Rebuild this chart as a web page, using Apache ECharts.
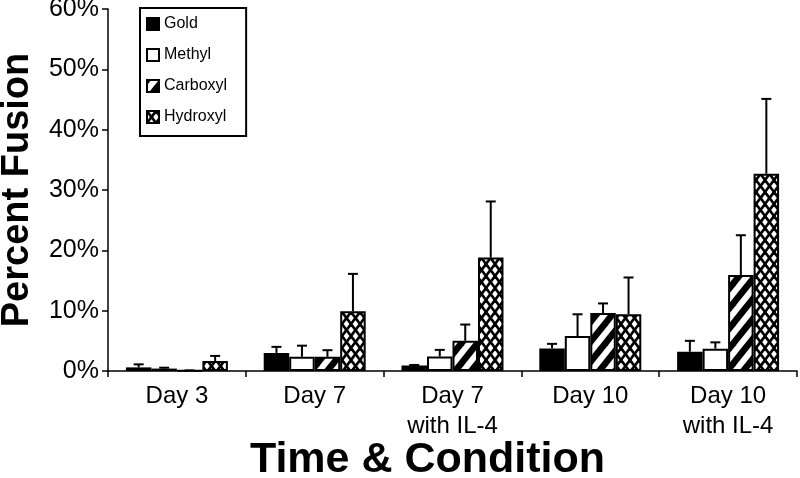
<!DOCTYPE html>
<html>
<head>
<meta charset="utf-8">
<script src="https://cdn.jsdelivr.net/npm/echarts@6/dist/echarts.min.js"></script>
<style>html,body{margin:0;padding:0;background:#fff}#c{width:800px;height:478px}</style>
</head>
<body>
<div id="c"></div>
<script>
// ---- data ----
const categories = ['Day 3', 'Day 7', 'Day 7\nwith IL-4', 'Day 10', 'Day 10\nwith IL-4'];
const seriesNames = ['Gold', 'Methyl', 'Carboxyl', 'Hydroxyl'];
const goldValues     = [0.6, 3.0, 0.9, 3.75, 3.2];
const goldErrors     = [0.5, 1.0, 0.1, 0.75, 1.8];
const methylValues   = [0.4, 2.35, 2.4, 5.8, 3.7];
const methylErrors   = [0.15, 1.85, 1.1, 3.6, 1.05];
const carboxylValues = [0.05, 2.35, 5.0, 9.6, 15.9];
const carboxylErrors = [0.05, 1.1, 2.7, 1.6, 6.6];
const hydroxylValues = [1.65, 9.9, 18.8, 9.4, 32.7];
const hydroxylErrors = [0.85, 6.2, 9.3, 6.1, 12.4];
const yTicks = [0, 10, 20, 30, 40, 50, 60];

const allValues = [goldValues, methylValues, carboxylValues, hydroxylValues];
const allErrors = [goldErrors, methylErrors, carboxylErrors, hydroxylErrors];

// ---- fill patterns ----
function stripeCanvas() {
  const Px = 16, Py = 20;
  const c = document.createElement('canvas'); c.width = Px; c.height = Py;
  const g = c.getContext('2d');
  g.fillStyle = '#fff'; g.fillRect(0, 0, Px, Py);
  g.strokeStyle = '#000'; g.lineWidth = 6.5;
  for (let k = -2; k <= 2; k++) {
    g.beginPath();
    g.moveTo(k * Px - Px, 2 * Py);
    g.lineTo(k * Px + 2 * Px, -Py);
    g.stroke();
  }
  return c;
}
function hatchCanvas() {
  const a = 9, b = 12;
  const c = document.createElement('canvas'); c.width = a; c.height = b;
  const g = c.getContext('2d');
  g.fillStyle = '#fff'; g.fillRect(0, 0, a, b);
  g.strokeStyle = '#000'; g.lineWidth = 2.6;
  for (let k = -2; k <= 2; k++) {
    g.beginPath(); g.moveTo(k * a - a, -b); g.lineTo(k * a + 2 * a, 2 * b); g.stroke();
    g.beginPath(); g.moveTo(k * a - a, 2 * b); g.lineTo(k * a + 2 * a, -b); g.stroke();
  }
  return c;
}

const fills = [
  '#000',
  '#fff',
  { image: stripeCanvas(), repeat: 'repeat' },
  { image: hatchCanvas(), repeat: 'repeat' }
];

const FONT = 'Liberation Sans, Arial, sans-serif';
const CAT_GAP = 0.26;

const barSeries = seriesNames.map((name, i) => ({
  name: name,
  type: 'bar',
  barGap: '0%',
  barCategoryGap: (CAT_GAP * 100) + '%',
  itemStyle: { color: fills[i], borderColor: '#000', borderWidth: 2 },
  emphasis: { disabled: true },
  data: allValues[i]
}));

const errData = [];
allValues.forEach((vals, si) => {
  vals.forEach((v, ci) => errData.push([ci, si, v, allErrors[si][ci]]));
});

const errSeries = {
  type: 'custom',
  name: 'err',
  z: 10,
  silent: true,
  encode: { x: 0, y: 2 },
  renderItem: function (params, api) {
    const ci = api.value(0), si = api.value(1), v = api.value(2), e = api.value(3);
    const base = api.coord([ci, v]);
    const top = api.coord([ci, v + e]);
    const band = api.size([1, 0])[0];
    const group = band * (1 - CAT_GAP);
    const w = group / 4;
    const x = base[0] - group / 2 + (si + 0.5) * w;
    return {
      type: 'group',
      children: [
        { type: 'line', shape: { x1: x, y1: base[1], x2: x, y2: top[1] }, style: { stroke: '#000', lineWidth: 2 } },
        { type: 'line', shape: { x1: x - 5, y1: top[1], x2: x + 5, y2: top[1] }, style: { stroke: '#000', lineWidth: 2 } }
      ]
    };
  },
  data: errData
};

const chart = echarts.init(document.getElementById('c'), null, { renderer: 'canvas' });
chart.setOption({
  animation: false,
  backgroundColor: '#fff',
  textStyle: { fontFamily: FONT, color: '#000' },
  grid: { left: 108, right: 3, top: 9, bottom: 107, containLabel: false, outerBoundsMode: 'none' },
  legend: {
    data: seriesNames,
    orient: 'vertical',
    left: 140,
    top: 8,
    icon: 'rect',
    itemWidth: 12,
    itemHeight: 12,
    itemGap: 15,
    padding: [8, 19, 11, 6],
    borderColor: '#000',
    borderWidth: 2,
    backgroundColor: '#fff',
    textStyle: { fontFamily: FONT, fontSize: 16, color: '#000' },
    selectedMode: false
  },
  xAxis: {
    type: 'category',
    data: categories,
    name: 'Time & Condition',
    nameLocation: 'middle',
    nameMoveOverlap: false,
    nameGap: 68,
    nameTextStyle: { fontFamily: FONT, fontSize: 43, fontWeight: 'bold', color: '#000', padding: [0, 50, 0, 0] },
    axisLine: { lineStyle: { color: '#000', width: 1.5 } },
    axisTick: { show: true, length: 6, lineStyle: { color: '#000', width: 1.5 } },
    axisLabel: { interval: 0, fontFamily: FONT, fontSize: 24, color: '#000', margin: 10, lineHeight: 30 }
  },
  yAxis: {
    type: 'value',
    min: yTicks[0],
    max: yTicks[yTicks.length - 1],
    interval: 10,
    name: 'Percent Fusion',
    nameLocation: 'middle',
    nameMoveOverlap: false,
    nameGap: 71,
    nameRotate: 90,
    nameTextStyle: { fontFamily: FONT, fontSize: 38, fontWeight: 'bold', color: '#000' },
    axisLine: { show: true, lineStyle: { color: '#000', width: 1.5 } },
    axisTick: { show: true, length: 6, lineStyle: { color: '#000', width: 1.5 } },
    splitLine: { show: false },
    axisLabel: { fontFamily: FONT, fontSize: 25, color: '#000', margin: 9, formatter: '{value}%' }
  },
  series: barSeries.concat([errSeries])
});
</script>
</body>
</html>
